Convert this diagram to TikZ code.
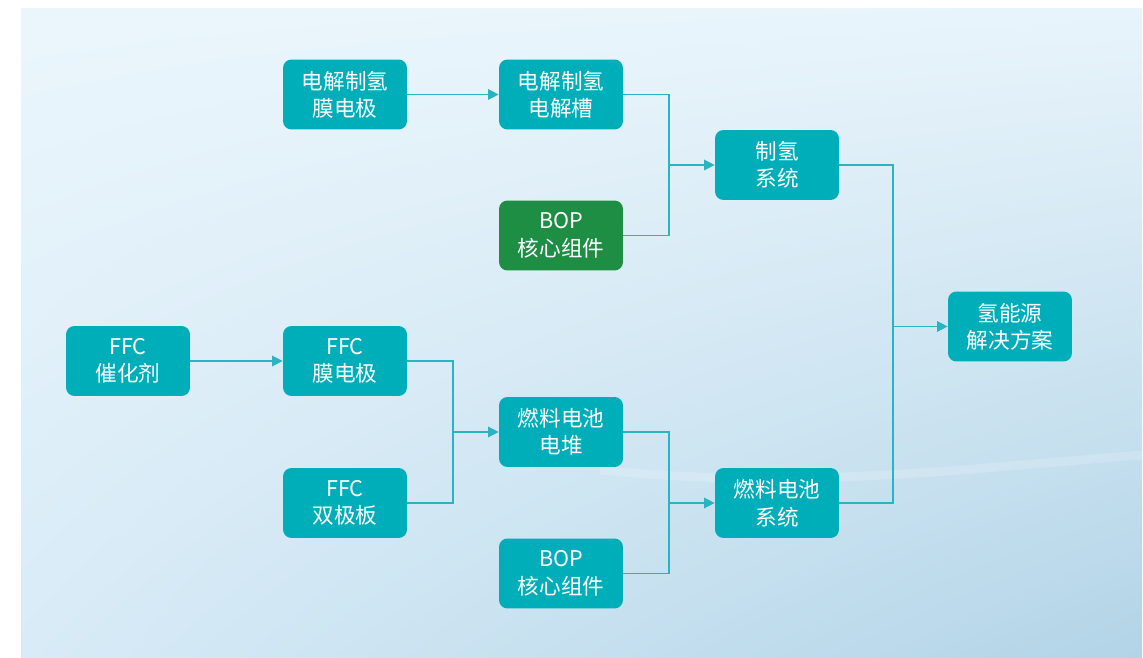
\documentclass[tikz,border=0pt]{standalone}
\usepackage{fontspec}
\setmainfont{Noto Sans CJK SC}
\usetikzlibrary{arrows.meta,shadings}
\definecolor{teal1}{HTML}{00AEBA}
\definecolor{green1}{HTML}{1E8E44}
\definecolor{line1}{HTML}{2AB3C0}
\definecolor{bgA}{HTML}{EBF6FC}
\definecolor{bgB}{HTML}{E8F4FB}
\definecolor{bgC}{HTML}{D8EBF7}
\definecolor{bgD}{HTML}{B2D4E7}
\tikzset{
  box/.style={draw=none, fill=teal1, rounded corners=0.17cm, minimum width=2.48cm, minimum height=1.4cm,
    text=white, align=center, font=\fontsize{12.3}{15.6}\selectfont, inner sep=0pt},
  gbox/.style={box, fill=green1},
  conn/.style={draw=line1, line width=0.75pt},
  arr/.style={conn, -{Triangle[length=6pt, width=6pt]}}
}
\begin{document}
\begin{tikzpicture}[x=0.02cm, y=-0.02cm]
\useasboundingbox (0,0) rectangle (1143,658);
\fill[white] (0,0) rectangle (1143,658);
\shade[upper left=bgA, upper right=bgB, lower left=bgC, lower right=bgD] (21,9) rectangle (1142,658);
\draw[white, opacity=0.18, line width=5pt] (600,470) .. controls (800,490) and (950,470) .. (1142,455);

\node[box] (m1) at (345,94.5) {电解制氢\\膜电极};
\node[box] (e1) at (561,94.5) {电解制氢\\电解槽};
\node[gbox] (bop1) at (561,235.5) {BOP\\核心组件};
\node[box] (h) at (777,165) {制氢\\系统};
\node[box] (sol) at (1010,326.5) {氢能源\\解决方案};
\node[box] (c1) at (128,361) {FFC\\催化剂};
\node[box] (m2) at (345,361) {FFC\\膜电极};
\node[box] (bp) at (345,503) {FFC\\双极板};
\node[box] (st) at (561,432) {燃料电池\\电堆};
\node[box] (bop2) at (561,573.5) {BOP\\核心组件};
\node[box] (fs) at (777,503) {燃料电池\\系统};

\coordinate (j1) at (669,165);
\coordinate (j2) at (893,326.5);
\coordinate (j3) at (453,432);
\coordinate (j4) at (669,503);

\draw[arr] (m1.east) -- (e1.west);
\draw[conn] (e1.east) -| (j1);
\draw[conn] (bop1.east) -| (j1);
\draw[arr] (j1) -- (h.west);

\draw[conn] (h.east) -| (j2);
\draw[conn] (fs.east) -| (j2);
\draw[arr] (j2) -- (sol.west);

\draw[arr] (c1.east) -- (m2.west);
\draw[conn] (m2.east) -| (j3);
\draw[conn] (bp.east) -| (j3);
\draw[arr] (j3) -- (st.west);

\draw[conn] (st.east) -| (j4);
\draw[conn] (bop2.east) -| (j4);
\draw[arr] (j4) -- (fs.west);
\end{tikzpicture}
\end{document}
